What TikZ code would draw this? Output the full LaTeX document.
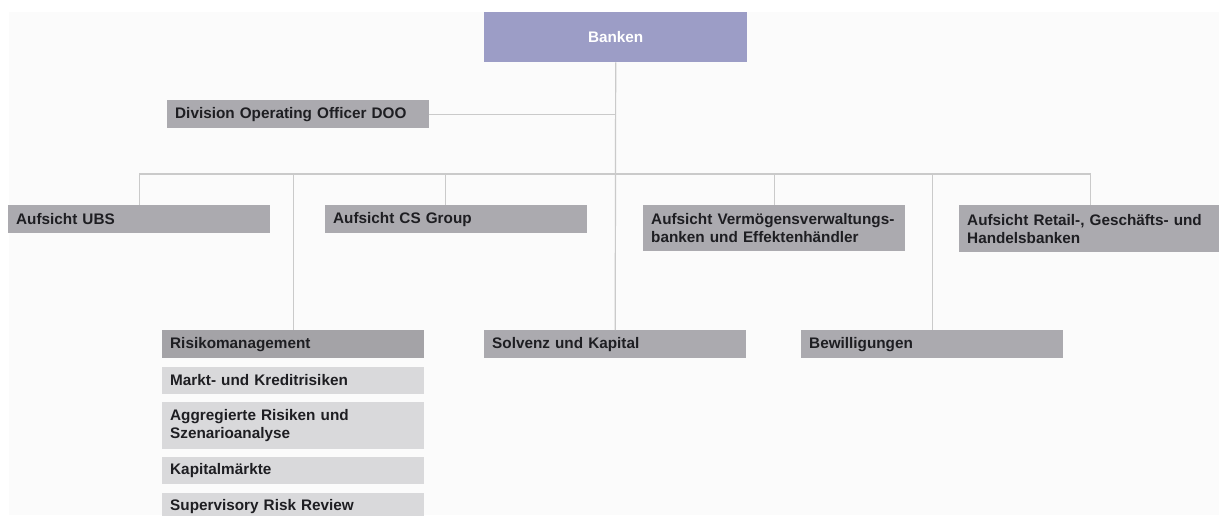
\documentclass[tikz,border=0pt]{standalone}
\usepackage{fontspec}
\setmainfont{Liberation Sans}
\usepackage{xcolor}
\usepackage{tikz}
\usetikzlibrary{positioning}

\definecolor{bankblue}{HTML}{9C9DC6}
\definecolor{unitgray}{HTML}{ABAAAF}
\definecolor{riskgray}{HTML}{A4A3A7}
\definecolor{subgray}{HTML}{D9D9DB}
\definecolor{linegray}{HTML}{CACACA}
\definecolor{inkgray}{HTML}{1E1E22}
\definecolor{paper}{HTML}{FBFBFB}

\tikzset{
  unit/.style={anchor=north west, fill=unitgray, text=inkgray,
    font=\bfseries\fontsize{15.3}{18}\selectfont,
    inner xsep=8pt, inner ysep=0pt, text width=246pt,
    minimum height=28pt, align=left},
  subunit/.style={unit, fill=subgray},
  link/.style={draw=linegray, line width=1.2pt}
}

\begin{document}
\begin{tikzpicture}[x=1pt, y=-1pt]
\useasboundingbox (0,0) rectangle (1219,515);
\clip (0,0) rectangle (1219,515);
\fill[white] (0,0) rectangle (1219,515);
\fill[paper] (9,12) rectangle (1219,515);

% Head of division
\node[unit, fill=bankblue, text=white, align=center, text width=247pt, minimum height=50pt] (banken) at (484,12) {Banken};
\node[unit] (doo) at (167,100) {Division Operating Officer DOO};

% Supervision units
\node[unit] (ubs) at (8,205) {Aufsicht UBS};
\node[unit] (cs) at (325,205) {Aufsicht CS Group};
\node[unit, minimum height=46pt] (verm) at (643,205) {Aufsicht Verm\"ogensverwaltungs-\\banken und Effektenh\"andler};
\node[unit, minimum height=47pt] (retail) at (959,205) {Aufsicht Retail-, Gesch\"afts- und\\Handelsbanken};

% Lower units
\node[unit, fill=riskgray] (risk) at (162,330) {Risikomanagement};
\node[unit] (solv) at (484,330) {Solvenz und Kapital};
\node[unit] (bew) at (801,330) {Bewilligungen};

% Risk sections
\node[subunit, minimum height=27pt, below right=8pt and 0pt of risk.south west] (markt) {Markt- und Kreditrisiken};
\node[subunit, minimum height=47pt, below right=8pt and 0pt of markt.south west] (aggr) {Aggregierte Risiken und\\Szenarioanalyse};
\node[subunit, minimum height=27pt, below right=8pt and 0pt of aggr.south west] (kapm) {Kapitalm\"arkte};
\node[subunit, below right=8pt and 0pt of kapm.south west] (srr) {Supervisory Risk Review};

% Connectors
\coordinate (bus) at (0,174);
\draw[link] (banken.south) -- (solv.north);
\draw[link] (doo.east) -- (doo.east -| banken.south);
\draw[link] (ubs.north) |- (bus -| retail.north) -- (retail.north);
\foreach \n in {risk, verm, bew}
  \draw[link] (\n.north) -- (\n.north |- bus);
\draw[link] ([xshift=-11pt]cs.north) -- ([xshift=-11pt]cs.north |- bus);

\end{tikzpicture}
\end{document}
